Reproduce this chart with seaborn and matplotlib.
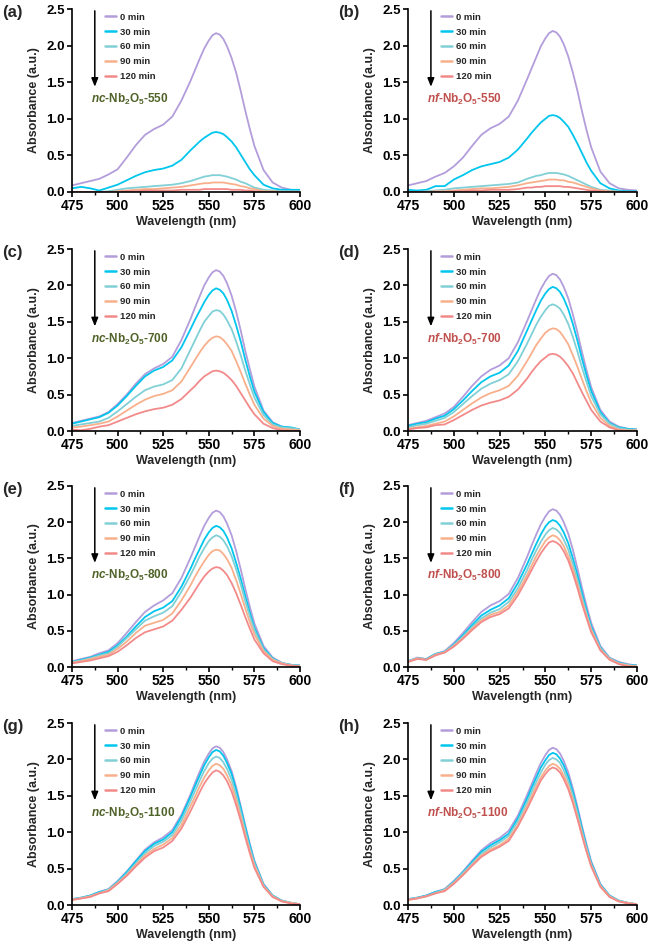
import numpy as np
import pandas as pd
import matplotlib
matplotlib.use("Agg")
import matplotlib.pyplot as plt
from matplotlib.ticker import MultipleLocator, FormatStrFormatter
import seaborn as sns

# ---------------- data ----------------
wavelength = [475, 480, 485, 490, 495, 500, 505, 510, 515, 520, 525, 530, 535,
              540, 542.5, 545, 547.5, 550, 552, 554, 556, 558, 560, 562.5, 565, 567.5, 570, 572.5, 575,
              580, 585, 590, 595, 600]
times = ["0 min", "30 min", "60 min", "90 min", "120 min"]

a_0 = [0.09, 0.12, 0.15, 0.18, 0.24, 0.31, 0.47, 0.64, 0.78, 0.86, 0.92, 1.03, 1.25,
       1.52, 1.67, 1.82, 1.96, 2.07, 2.14, 2.17, 2.15, 2.09, 1.99, 1.83, 1.63, 1.38, 1.11, 0.86, 0.63,
       0.30, 0.13, 0.06, 0.03, 0.02]
a_30 = [0.05, 0.07, 0.05, 0.02, 0.06, 0.10, 0.16, 0.22, 0.27, 0.30, 0.32, 0.36, 0.44,
        0.57, 0.63, 0.69, 0.74, 0.78, 0.81, 0.82, 0.81, 0.79, 0.75, 0.69, 0.61, 0.51, 0.41, 0.31, 0.23,
        0.10, 0.05, 0.03, 0.03, 0.03]
a_60 = [0.00, 0.00, 0.00, 0.00, 0.01, 0.03, 0.05, 0.06, 0.07, 0.08, 0.09, 0.10, 0.12,
        0.15, 0.17, 0.19, 0.21, 0.22, 0.23, 0.23, 0.23, 0.22, 0.21, 0.19, 0.17, 0.14, 0.12, 0.09, 0.06,
        0.03, 0.02, 0.01, 0.01, 0.01]
a_90 = [0.00, 0.00, 0.00, 0.00, 0.00, 0.01, 0.02, 0.03, 0.04, 0.04, 0.05, 0.06, 0.07,
        0.09, 0.10, 0.11, 0.12, 0.12, 0.13, 0.13, 0.13, 0.13, 0.12, 0.11, 0.10, 0.08, 0.07, 0.05, 0.04,
        0.01, 0.01, 0.00, 0.00, 0.00]
a_120 = [0.00, 0.00, 0.00, 0.00, 0.00, 0.00, 0.01, 0.01, 0.02, 0.02, 0.02, 0.02, 0.03,
         0.03, 0.03, 0.03, 0.04, 0.04, 0.04, 0.04, 0.04, 0.04, 0.04, 0.03, 0.03, 0.03, 0.02, 0.02, 0.01,
         0.00, 0.00, 0.00, 0.00, 0.00]

b_0 = [0.09, 0.12, 0.15, 0.21, 0.26, 0.35, 0.47, 0.63, 0.78, 0.87, 0.93, 1.03, 1.25,
       1.54, 1.69, 1.84, 1.99, 2.10, 2.17, 2.20, 2.18, 2.12, 2.02, 1.85, 1.63, 1.38, 1.10, 0.84, 0.61,
       0.28, 0.12, 0.05, 0.03, 0.02]
b_30 = [0.03, 0.02, 0.03, 0.08, 0.08, 0.17, 0.23, 0.30, 0.35, 0.38, 0.41, 0.47, 0.58,
        0.73, 0.81, 0.88, 0.95, 1.00, 1.04, 1.05, 1.04, 1.01, 0.96, 0.89, 0.78, 0.66, 0.53, 0.40, 0.29,
        0.12, 0.05, 0.02, 0.01, 0.01]
b_60 = [0.00, 0.00, 0.01, 0.02, 0.03, 0.05, 0.06, 0.07, 0.08, 0.09, 0.10, 0.11, 0.13,
        0.18, 0.20, 0.22, 0.23, 0.25, 0.26, 0.26, 0.26, 0.25, 0.24, 0.22, 0.19, 0.16, 0.13, 0.10, 0.07,
        0.03, 0.02, 0.01, 0.00, 0.00]
b_90 = [0.00, 0.00, 0.00, 0.01, 0.01, 0.02, 0.03, 0.04, 0.05, 0.05, 0.06, 0.07, 0.09,
        0.12, 0.13, 0.14, 0.15, 0.16, 0.17, 0.17, 0.17, 0.16, 0.16, 0.14, 0.13, 0.11, 0.09, 0.07, 0.05,
        0.02, 0.01, 0.00, 0.00, 0.00]
b_120 = [0.00, 0.00, 0.00, 0.00, 0.00, 0.01, 0.01, 0.02, 0.02, 0.03, 0.03, 0.03, 0.04,
         0.06, 0.06, 0.07, 0.07, 0.08, 0.08, 0.08, 0.08, 0.08, 0.07, 0.07, 0.06, 0.05, 0.04, 0.03, 0.02,
         0.01, 0.00, 0.00, 0.00, 0.00]

c_0 = [0.11, 0.14, 0.17, 0.20, 0.26, 0.37, 0.50, 0.65, 0.78, 0.86, 0.92, 1.02, 1.25,
       1.54, 1.70, 1.85, 2.00, 2.11, 2.18, 2.21, 2.19, 2.13, 2.03, 1.86, 1.64, 1.38, 1.10, 0.85, 0.61,
       0.28, 0.12, 0.06, 0.04, 0.02]
c_30 = [0.10, 0.13, 0.16, 0.19, 0.25, 0.35, 0.48, 0.62, 0.75, 0.83, 0.88, 0.97, 1.15,
        1.40, 1.53, 1.65, 1.77, 1.87, 1.93, 1.96, 1.94, 1.89, 1.80, 1.65, 1.45, 1.23, 0.98, 0.75, 0.54,
        0.26, 0.11, 0.06, 0.05, 0.02]
c_60 = [0.07, 0.09, 0.11, 0.13, 0.18, 0.27, 0.37, 0.47, 0.56, 0.61, 0.64, 0.70, 0.86,
        1.12, 1.25, 1.38, 1.50, 1.58, 1.64, 1.66, 1.65, 1.60, 1.52, 1.40, 1.23, 1.04, 0.83, 0.64, 0.46,
        0.22, 0.09, 0.05, 0.04, 0.02]
c_90 = [0.05, 0.06, 0.08, 0.10, 0.13, 0.20, 0.28, 0.36, 0.43, 0.48, 0.51, 0.56, 0.68,
        0.88, 0.98, 1.08, 1.17, 1.24, 1.28, 1.30, 1.29, 1.25, 1.19, 1.10, 0.96, 0.81, 0.65, 0.50, 0.36,
        0.17, 0.07, 0.03, 0.02, 0.01]
c_120 = [0.02, 0.01, 0.03, 0.06, 0.08, 0.13, 0.18, 0.23, 0.27, 0.30, 0.32, 0.36, 0.44,
         0.56, 0.62, 0.69, 0.75, 0.79, 0.82, 0.83, 0.82, 0.80, 0.76, 0.70, 0.62, 0.52, 0.42, 0.32, 0.23,
         0.10, 0.04, 0.01, 0.00, 0.00]

d_0 = [0.08, 0.11, 0.14, 0.19, 0.24, 0.33, 0.47, 0.62, 0.75, 0.84, 0.90, 1.00, 1.22,
       1.51, 1.66, 1.81, 1.95, 2.06, 2.13, 2.16, 2.14, 2.08, 1.98, 1.82, 1.60, 1.35, 1.08, 0.83, 0.60,
       0.29, 0.13, 0.06, 0.03, 0.02]
d_30 = [0.07, 0.10, 0.12, 0.17, 0.21, 0.30, 0.42, 0.55, 0.67, 0.75, 0.80, 0.90, 1.10,
        1.38, 1.52, 1.66, 1.79, 1.89, 1.95, 1.98, 1.96, 1.91, 1.82, 1.67, 1.47, 1.24, 0.99, 0.76, 0.55,
        0.26, 0.11, 0.05, 0.03, 0.02]
d_60 = [0.05, 0.08, 0.10, 0.14, 0.18, 0.26, 0.37, 0.48, 0.58, 0.65, 0.70, 0.78, 0.96,
        1.20, 1.33, 1.46, 1.57, 1.66, 1.72, 1.74, 1.72, 1.68, 1.60, 1.47, 1.29, 1.09, 0.87, 0.67, 0.48,
        0.23, 0.10, 0.04, 0.02, 0.01]
d_90 = [0.03, 0.05, 0.07, 0.10, 0.13, 0.20, 0.29, 0.38, 0.46, 0.52, 0.56, 0.62, 0.76,
        0.96, 1.07, 1.18, 1.27, 1.35, 1.39, 1.41, 1.40, 1.36, 1.29, 1.19, 1.04, 0.88, 0.71, 0.54, 0.39,
        0.18, 0.07, 0.02, 0.01, 0.01]
d_120 = [0.02, 0.04, 0.05, 0.08, 0.09, 0.15, 0.22, 0.29, 0.35, 0.39, 0.42, 0.47, 0.57,
         0.72, 0.81, 0.89, 0.96, 1.01, 1.05, 1.06, 1.05, 1.02, 0.97, 0.89, 0.79, 0.66, 0.53, 0.41, 0.29,
         0.13, 0.05, 0.01, 0.00, 0.00]

e_0 = [0.08, 0.11, 0.14, 0.19, 0.23, 0.33, 0.47, 0.62, 0.76, 0.85, 0.92, 1.02, 1.23,
       1.51, 1.66, 1.81, 1.95, 2.06, 2.13, 2.16, 2.14, 2.08, 1.98, 1.82, 1.60, 1.35, 1.08, 0.83, 0.60,
       0.29, 0.13, 0.06, 0.03, 0.02]
e_30 = [0.07, 0.10, 0.13, 0.17, 0.21, 0.30, 0.42, 0.56, 0.69, 0.77, 0.82, 0.91, 1.11,
        1.36, 1.50, 1.63, 1.76, 1.86, 1.92, 1.95, 1.93, 1.88, 1.79, 1.64, 1.44, 1.22, 0.98, 0.75, 0.54,
        0.26, 0.12, 0.05, 0.03, 0.02]
e_60 = [0.07, 0.09, 0.12, 0.16, 0.19, 0.28, 0.40, 0.52, 0.64, 0.70, 0.75, 0.84, 1.04,
        1.27, 1.40, 1.53, 1.64, 1.74, 1.79, 1.82, 1.80, 1.75, 1.67, 1.53, 1.35, 1.14, 0.91, 0.70, 0.51,
        0.24, 0.11, 0.05, 0.03, 0.02]
e_90 = [0.06, 0.08, 0.11, 0.14, 0.17, 0.25, 0.35, 0.47, 0.57, 0.61, 0.65, 0.74, 0.92,
        1.13, 1.25, 1.36, 1.46, 1.55, 1.60, 1.62, 1.61, 1.56, 1.49, 1.37, 1.20, 1.01, 0.81, 0.62, 0.45,
        0.22, 0.10, 0.05, 0.02, 0.01]
e_120 = [0.05, 0.07, 0.09, 0.12, 0.15, 0.21, 0.30, 0.40, 0.48, 0.52, 0.56, 0.64, 0.79,
         0.96, 1.06, 1.16, 1.25, 1.32, 1.36, 1.38, 1.37, 1.33, 1.27, 1.16, 1.02, 0.86, 0.69, 0.53, 0.38,
         0.19, 0.08, 0.04, 0.02, 0.01]

f_0 = [0.08, 0.13, 0.11, 0.18, 0.22, 0.33, 0.47, 0.62, 0.76, 0.85, 0.91, 1.01, 1.23,
       1.52, 1.68, 1.83, 1.97, 2.08, 2.15, 2.18, 2.16, 2.10, 2.00, 1.84, 1.62, 1.36, 1.09, 0.84, 0.61,
       0.29, 0.13, 0.07, 0.04, 0.02]
f_30 = [0.08, 0.12, 0.11, 0.18, 0.21, 0.31, 0.44, 0.58, 0.71, 0.79, 0.85, 0.95, 1.16,
        1.42, 1.56, 1.70, 1.83, 1.94, 2.00, 2.03, 2.01, 1.95, 1.86, 1.71, 1.50, 1.27, 1.02, 0.78, 0.56,
        0.27, 0.12, 0.06, 0.03, 0.02]
f_60 = [0.08, 0.12, 0.10, 0.17, 0.21, 0.30, 0.42, 0.55, 0.67, 0.75, 0.80, 0.90, 1.09,
        1.34, 1.48, 1.61, 1.73, 1.83, 1.89, 1.92, 1.90, 1.85, 1.76, 1.62, 1.42, 1.20, 0.96, 0.74, 0.53,
        0.26, 0.12, 0.05, 0.03, 0.01]
f_90 = [0.07, 0.12, 0.10, 0.17, 0.20, 0.29, 0.40, 0.53, 0.64, 0.72, 0.76, 0.85, 1.04,
        1.27, 1.40, 1.53, 1.64, 1.74, 1.79, 1.82, 1.80, 1.75, 1.67, 1.53, 1.35, 1.14, 0.91, 0.70, 0.51,
        0.24, 0.11, 0.05, 0.02, 0.01]
f_120 = [0.07, 0.11, 0.10, 0.16, 0.20, 0.28, 0.39, 0.51, 0.62, 0.69, 0.73, 0.81, 0.99,
         1.22, 1.34, 1.46, 1.57, 1.66, 1.72, 1.74, 1.72, 1.68, 1.60, 1.47, 1.29, 1.09, 0.87, 0.67, 0.48,
         0.23, 0.10, 0.04, 0.01, 0.00]

g_0 = [0.08, 0.10, 0.13, 0.18, 0.22, 0.33, 0.46, 0.61, 0.76, 0.86, 0.93, 1.03, 1.24,
       1.52, 1.68, 1.83, 1.97, 2.08, 2.15, 2.18, 2.16, 2.10, 2.00, 1.84, 1.62, 1.36, 1.09, 0.84, 0.61,
       0.29, 0.13, 0.06, 0.03, 0.01]
g_30 = [0.08, 0.10, 0.13, 0.18, 0.21, 0.32, 0.45, 0.60, 0.74, 0.84, 0.90, 1.00, 1.21,
        1.49, 1.64, 1.78, 1.92, 2.03, 2.10, 2.13, 2.11, 2.05, 1.95, 1.80, 1.58, 1.33, 1.07, 0.82, 0.59,
        0.28, 0.13, 0.06, 0.03, 0.01]
g_60 = [0.08, 0.10, 0.12, 0.17, 0.21, 0.31, 0.43, 0.57, 0.71, 0.81, 0.87, 0.96, 1.16,
        1.43, 1.57, 1.71, 1.84, 1.95, 2.01, 2.04, 2.02, 1.96, 1.87, 1.72, 1.51, 1.28, 1.02, 0.78, 0.57,
        0.27, 0.12, 0.06, 0.03, 0.01]
g_90 = [0.07, 0.09, 0.12, 0.16, 0.20, 0.30, 0.41, 0.55, 0.68, 0.77, 0.83, 0.92, 1.10,
        1.36, 1.49, 1.63, 1.75, 1.85, 1.91, 1.94, 1.92, 1.87, 1.78, 1.64, 1.44, 1.21, 0.97, 0.74, 0.54,
        0.26, 0.12, 0.05, 0.03, 0.01]
g_120 = [0.07, 0.09, 0.11, 0.16, 0.19, 0.29, 0.40, 0.53, 0.65, 0.74, 0.79, 0.88, 1.05,
         1.29, 1.42, 1.55, 1.67, 1.76, 1.82, 1.85, 1.83, 1.78, 1.70, 1.56, 1.37, 1.16, 0.93, 0.71, 0.51,
         0.25, 0.11, 0.05, 0.02, 0.01]

h_0 = [0.08, 0.10, 0.13, 0.18, 0.22, 0.33, 0.46, 0.61, 0.75, 0.85, 0.92, 1.02, 1.23,
       1.51, 1.66, 1.81, 1.95, 2.06, 2.13, 2.16, 2.14, 2.08, 1.98, 1.82, 1.60, 1.35, 1.08, 0.83, 0.60,
       0.29, 0.13, 0.06, 0.03, 0.01]
h_30 = [0.08, 0.10, 0.13, 0.18, 0.21, 0.32, 0.45, 0.59, 0.73, 0.82, 0.89, 0.98, 1.19,
        1.46, 1.61, 1.75, 1.89, 1.99, 2.06, 2.09, 2.07, 2.01, 1.92, 1.76, 1.55, 1.31, 1.05, 0.80, 0.58,
        0.28, 0.13, 0.06, 0.03, 0.01]
h_60 = [0.08, 0.10, 0.12, 0.17, 0.21, 0.31, 0.44, 0.57, 0.70, 0.79, 0.86, 0.95, 1.15,
        1.41, 1.55, 1.69, 1.82, 1.93, 1.99, 2.02, 2.00, 1.95, 1.85, 1.70, 1.50, 1.26, 1.01, 0.78, 0.56,
        0.27, 0.12, 0.06, 0.03, 0.01]
h_90 = [0.07, 0.09, 0.12, 0.16, 0.20, 0.30, 0.42, 0.55, 0.68, 0.76, 0.82, 0.91, 1.10,
        1.36, 1.49, 1.63, 1.75, 1.85, 1.91, 1.94, 1.92, 1.87, 1.78, 1.64, 1.44, 1.21, 0.97, 0.74, 0.54,
        0.26, 0.12, 0.05, 0.03, 0.01]
h_120 = [0.07, 0.09, 0.12, 0.16, 0.19, 0.29, 0.41, 0.54, 0.66, 0.74, 0.80, 0.88, 1.08,
         1.32, 1.45, 1.58, 1.71, 1.80, 1.86, 1.89, 1.87, 1.82, 1.73, 1.59, 1.40, 1.18, 0.95, 0.73, 0.53,
         0.25, 0.11, 0.05, 0.02, 0.01]

panel_letters = ["(a)", "(b)", "(c)", "(d)", "(e)", "(f)", "(g)", "(h)"]
sample_prefix = ["nc", "nf", "nc", "nf", "nc", "nf", "nc", "nf"]
sample_temp = ["550", "550", "700", "700", "800", "800", "1100", "1100"]
panel_series = [
    [a_0, a_30, a_60, a_90, a_120],
    [b_0, b_30, b_60, b_90, b_120],
    [c_0, c_30, c_60, c_90, c_120],
    [d_0, d_30, d_60, d_90, d_120],
    [e_0, e_30, e_60, e_90, e_120],
    [f_0, f_30, f_60, f_90, f_120],
    [g_0, g_30, g_60, g_90, g_120],
    [h_0, h_30, h_60, h_90, h_120],
]
x_ticks = [475, 500, 525, 550, 575, 600]
y_ticks = [0.0, 0.5, 1.0, 1.5, 2.0, 2.5]

# ---------------- style ----------------
sns.set_style("ticks")
plt.rcParams["font.family"] = ["Liberation Sans", "DejaVu Sans"]
plt.rcParams["font.weight"] = "bold"
plt.rcParams["axes.labelweight"] = "bold"
plt.rcParams["mathtext.fontset"] = "custom"
plt.rcParams["mathtext.rm"] = "Liberation Sans:bold"
plt.rcParams["mathtext.it"] = "Liberation Sans:bold:italic"
plt.rcParams["mathtext.bf"] = "Liberation Sans:bold"

palette = {"0 min": "#b39ddb", "30 min": "#00c6ee", "60 min": "#80d0d6",
           "90 min": "#f8b08c", "120 min": "#f38a8a"}
label_colors = {"nc": "#4f6228", "nf": "#c0504d"}

W, H = 651, 944
fig = plt.figure(figsize=(W / 100, H / 100), dpi=100)

col_left = [72, 408]
col_width = [228, 229]
row_top = [9, 249, 486, 723]
row_bottom = [192, 431, 667, 905]

for i in range(8):
    r, c = divmod(i, 2)
    lp, tp, bp = col_left[c], row_top[r], row_bottom[r]
    ax = fig.add_axes([lp / W, 1 - bp / H, col_width[c] / W, (bp - tp) / H])

    rows = []
    for t, vals in zip(times, panel_series[i]):
        for wl, v in zip(wavelength, vals):
            rows.append({"Wavelength": wl, "Absorbance": v, "time": t})
    df = pd.DataFrame(rows)
    sns.lineplot(data=df, x="Wavelength", y="Absorbance", hue="time",
                 hue_order=times, palette=palette, linewidth=1.3, ax=ax,
                 legend=True, sort=False)

    ax.set_xlim(475, 600)
    ax.set_ylim(0, 2.5)
    ax.set_xticks(x_ticks)
    ax.set_yticks(y_ticks)
    ax.xaxis.set_minor_locator(MultipleLocator(12.5))
    ax.yaxis.set_major_formatter(FormatStrFormatter("%.1f"))
    ax.set_xlabel("Wavelength (nm)", fontsize=9, fontweight="bold", labelpad=2)
    ax.set_ylabel("Absorbance (a.u.)", fontsize=9, fontweight="bold", labelpad=5)
    for s in ["top", "right"]:
        ax.spines[s].set_visible(False)
    for s in ["left", "bottom"]:
        ax.spines[s].set_linewidth(1.2)
        ax.spines[s].set_color("black")
    ax.tick_params(axis="both", which="major", direction="out", length=3.5,
                   width=1.2, colors="black", pad=1.5)
    ax.tick_params(axis="x", which="major", labelsize=10)
    ax.tick_params(axis="y", which="major", labelsize=9.5)
    ax.tick_params(axis="x", which="minor", direction="out", length=2,
                   width=1.0, colors="black")
    for lab in ax.get_xticklabels() + ax.get_yticklabels():
        lab.set_fontweight("bold")

    handles, labels = ax.get_legend_handles_labels()
    leg = ax.legend(handles, labels, loc="upper left",
                    bbox_to_anchor=(0.135, 0.99), frameon=False,
                    fontsize=6.8, handlelength=1.15, handletextpad=0.45,
                    labelspacing=0.62, borderpad=0.2, borderaxespad=0)
    for txt in leg.get_texts():
        txt.set_fontweight("bold")
    for ln in leg.get_lines():
        ln.set_linewidth(1.8)

    ax.annotate("", xy=(0.10, 0.575), xytext=(0.10, 0.99),
                xycoords="axes fraction",
                arrowprops=dict(arrowstyle="-|>,head_length=0.5,head_width=0.2",
                                color="black", lw=1.1, shrinkA=0, shrinkB=0))

    pre = sample_prefix[i]
    ax.text(0.085, 0.505, rf"$\mathit{{{pre}}}$-Nb$_2$O$_5$-{sample_temp[i]}",
            transform=ax.transAxes, fontsize=8.5, fontweight="bold",
            color=label_colors[pre], ha="left", va="center")

    fig.text((lp - 70) / W, 1 - (tp - 4) / H, panel_letters[i], fontsize=12,
             fontweight="bold", ha="left", va="top")

fig.savefig("out.png", dpi=100)
